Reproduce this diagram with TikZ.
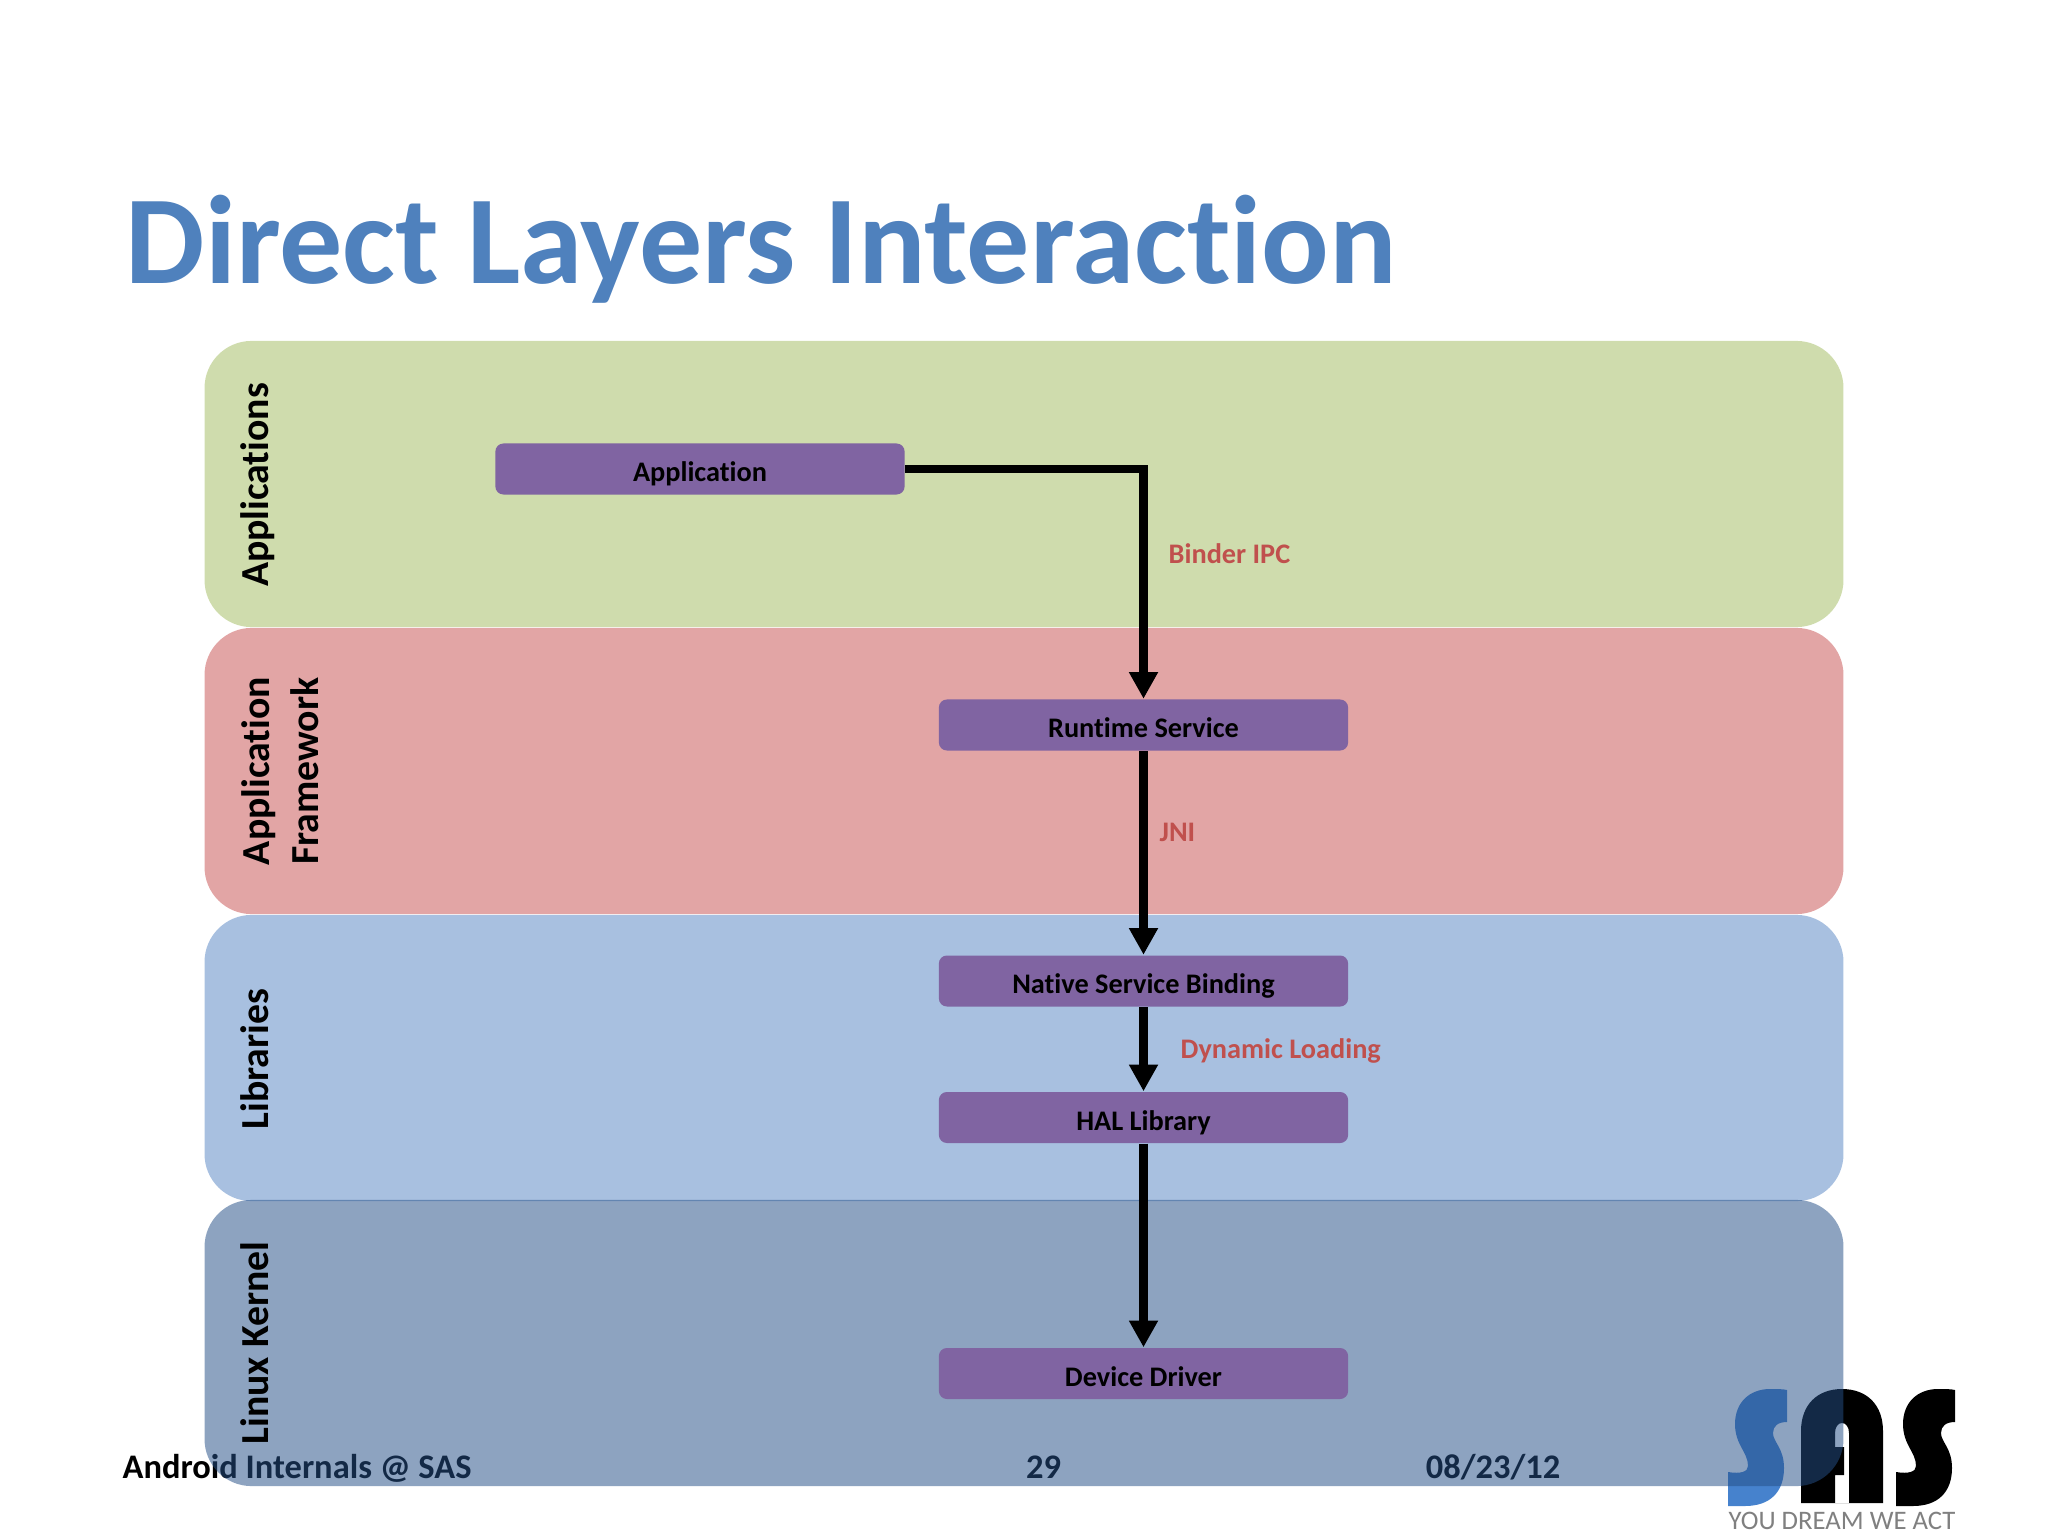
\documentclass[tikz,border=0pt]{standalone}
\usepackage{fontspec}
\setmainfont{Carlito}[Ligatures=CommonOff]
\usetikzlibrary{arrows.meta}
\definecolor{titleblue}{RGB}{79,129,189}
\definecolor{appgreen}{RGB}{207,220,173}
\definecolor{fwred}{RGB}{226,165,165}
\definecolor{libblue}{RGB}{168,192,224}
\definecolor{kernelblue}{RGB}{37,79,135}
\definecolor{blockviolet}{RGB}{128,100,162}
\definecolor{linkred}{RGB}{192,80,77}
\definecolor{logoblue}{RGB}{70,130,205}
\tikzset{
  layer/.style={minimum width=16.38cm,minimum height=2.86cm,rounded corners=.47cm,inner sep=0pt},
  layertext/.style={rotate=90,anchor=base,font=\fontsize{11.3}{13.4}\selectfont\bfseries,align=center,inner sep=0pt},
  block/.style={fill=blockviolet,minimum width=4.09cm,minimum height=.51cm,rounded corners=.08cm,inner sep=0pt,text height=9.2pt,text depth=2pt,font=\fontsize{8.05}{10}\selectfont\bfseries,text=black},
  link/.style={line width=2.45pt,-{Triangle[width=7.8pt,length=7.6pt]}},
  linktext/.style={anchor=base west,inner sep=0pt,text=linkred,font=\fontsize{8.05}{10}\selectfont\bfseries},
  foot/.style={anchor=base,inner sep=0pt,font=\fontsize{9.8}{12}\selectfont\bfseries}
}
% s of the logo
\newcommand{\logoS}[2]{
  \fill[#2,shift={(#1,0)}] (1787,1390) -- (1787,1422) .. controls (1778,1422) and (1773,1426) .. (1773,1433)
    .. controls (1773,1442) and (1784,1448) .. (1784,1468) .. controls (1784,1492) and (1770,1506) .. (1745,1506)
    -- (1728,1506) -- (1728,1472) .. controls (1740,1474) and (1748,1472) .. (1748,1466)
    .. controls (1748,1452) and (1735,1445) .. (1735,1424) .. controls (1735,1402) and (1750,1389) .. (1770,1389)
    .. controls (1777,1389) and (1783,1389) .. (1787,1390) -- cycle;
}
\begin{document}
\begin{tikzpicture}[x=.01cm,y=-.01cm]
  \useasboundingbox (0,0) rectangle (2048,1536);
  % Titel
  \node[anchor=base west,inner sep=0pt,text=titleblue,font=\fontsize{35.83}{40}\selectfont\bfseries] (title) at (125,283) {Direct Layers Interaction};
  % Fusszeile
  \node[foot,anchor=base west] (footer) at (122,1478) {Android Internals @ SAS};
  \node[foot] (page) at (1043.5,1478) {29};
  \node[foot] (date) at (1493,1478) {08/23/12};
  % Logo
  \logoS{0}{logoblue}
  \logoS{168}{black}
  \fill[black,even odd rule] (1801,1503) -- (1801,1431) .. controls (1801,1405) and (1817,1389) .. (1842,1389)
    .. controls (1867,1389) and (1883,1405) .. (1883,1431) -- (1883,1503) -- cycle
    (1849,1503) -- (1849,1433) .. controls (1849,1427) and (1846,1423) .. (1842,1423)
    .. controls (1838,1423) and (1835,1427) .. (1835,1433) -- (1835,1447) -- (1844,1447) -- (1844,1475) -- (1835,1475) -- (1835,1503) -- cycle;
  \node[anchor=base,inner sep=0pt,text=gray,font=\fontsize{7.6}{9}\selectfont] (slogan) at (1842,1529) {YOU DREAM WE ACT};
  % Schichten
  \node[layer,fill=appgreen] (apps) at (1024,484) {};
  \node[layer,fill=fwred] (framework) at (1024,771) {};
  \node[layer,fill=libblue] (libs) at (1024,1058) {};
  \node[layer,fill=kernelblue,fill opacity=.52] (kernel) at (1024,1343) {};
  % Beschriftung der Schichten
  \node[layertext] (appstext) at (268,485) {Applications};
  \node[layertext,anchor=center] (fwtext) at (280,771) {Application\\[.6pt]Framework};
  \node[layertext] (libstext) at (268,1059) {Libraries};
  \node[layertext] (kerneltext) at (268,1343) {Linux Kernel};
  % Bloecke
  \node[block] (app) at (700,469) {Application};
  \node[block] (runtime) at (1143.5,725) {Runtime Service};
  \node[block] (native) at (1143.5,981) {Native Service Binding};
  \node[block] (hal) at (1143.5,1117.5) {HAL Library};
  \node[block] (driver) at (1143.5,1373.5) {Device Driver};
  % Pfeile
  \draw[link] (app.east) -| (runtime.north);
  \draw[link] (runtime) -- (native);
  \draw[link] (native) -- (hal);
  \draw[link] (hal) -- (driver);
  % Beschriftung der Pfeile
  \node[linktext] (binder) at (1168,563) {Binder IPC};
  \node[linktext] (jni) at (1159,841) {JNI};
  \node[linktext] (dynamic) at (1180,1058) {Dynamic Loading};
\end{tikzpicture}
\end{document}
